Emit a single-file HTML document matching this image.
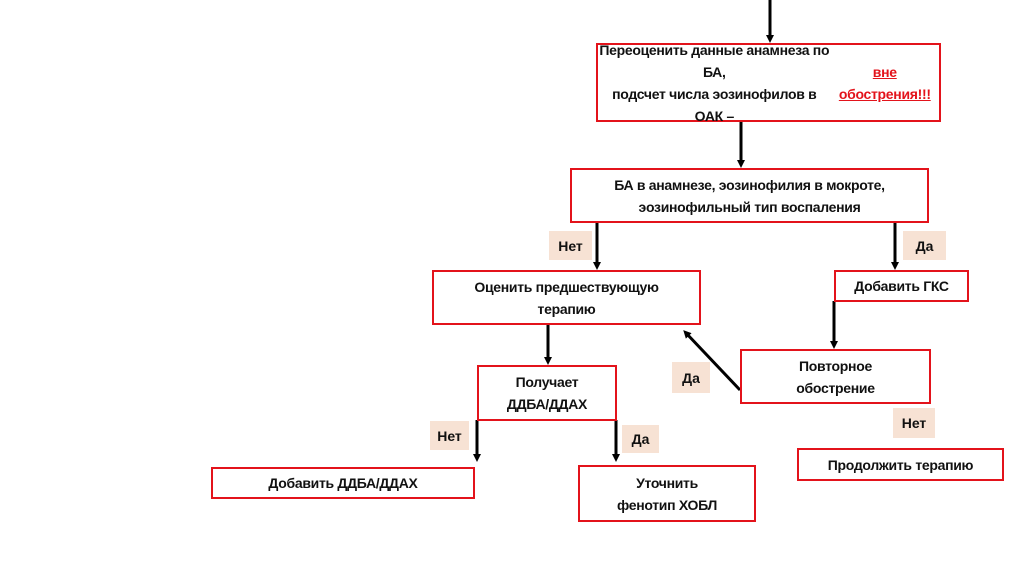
<!DOCTYPE html>
<html><head><meta charset="utf-8"><style>
body{margin:0;width:1024px;height:574px;background:#fff;position:relative;overflow:hidden;font-family:"Liberation Sans",sans-serif;}
.b{position:absolute;box-sizing:border-box;border:2px solid #e3131b;display:flex;align-items:center;justify-content:center;text-align:center;font-weight:bold;font-size:14px;line-height:22px;color:#111;letter-spacing:-0.3px}
.l{position:absolute;background:#f7e2d4;display:flex;align-items:center;justify-content:center;font-weight:bold;font-size:14px;color:#111}
svg{position:absolute;left:0;top:0}
</style></head><body>
<svg width="1024" height="574">
<defs><marker id="a" markerWidth="8" markerHeight="8" refX="4" refY="4" orient="auto" markerUnits="userSpaceOnUse"><path d="M0,0 L8,4 L0,8z" fill="#000"/></marker></defs>
<g stroke="#000" stroke-width="3" marker-end="url(#a)">
<line x1="770" y1="0" x2="770" y2="39"/>
<line x1="741" y1="121" x2="741" y2="164"/>
<line x1="597" y1="222" x2="597" y2="266"/>
<line x1="895" y1="222" x2="895" y2="266"/>
<line x1="834" y1="301" x2="834" y2="345"/>
<line x1="548" y1="324" x2="548" y2="361"/>
<line x1="740" y1="390" x2="686" y2="333"/>
<line x1="477" y1="420" x2="477" y2="458"/>
<line x1="616" y1="420" x2="616" y2="458"/>
</g></svg>
<div class="b" style="left:596px;top:43px;width:345px;height:79px">Переоценить данные анамнеза по БА,<br>подсчет числа эозинофилов в ОАК –<br><span style="color:#e3131b;text-decoration:underline">вне обострения!!!</span></div>
<div class="b" style="left:570px;top:168px;width:359px;height:55px">БА в анамнезе, эозинофилия в мокроте,<br>эозинофильный тип воспаления</div>
<div class="b" style="left:432px;top:270px;width:269px;height:55px">Оценить предшествующую<br>терапию</div>
<div class="b" style="left:834px;top:270px;width:135px;height:32px">Добавить ГКС</div>
<div class="b" style="left:740px;top:349px;width:191px;height:55px">Повторное<br>обострение</div>
<div class="b" style="left:477px;top:365px;width:140px;height:56px">Получает<br>ДДБА/ДДАХ</div>
<div class="b" style="left:211px;top:467px;width:264px;height:32px">Добавить ДДБА/ДДАХ</div>
<div class="b" style="left:578px;top:465px;width:178px;height:57px">Уточнить<br>фенотип ХОБЛ</div>
<div class="b" style="left:797px;top:448px;width:207px;height:33px">Продолжить терапию</div>
<div class="l" style="left:549px;top:231px;width:43px;height:29px">Нет</div>
<div class="l" style="left:903px;top:231px;width:43px;height:29px">Да</div>
<div class="l" style="left:672px;top:362px;width:38px;height:31px">Да</div>
<div class="l" style="left:893px;top:408px;width:42px;height:30px">Нет</div>
<div class="l" style="left:430px;top:421px;width:39px;height:29px">Нет</div>
<div class="l" style="left:622px;top:425px;width:37px;height:28px">Да</div>
</body></html>
